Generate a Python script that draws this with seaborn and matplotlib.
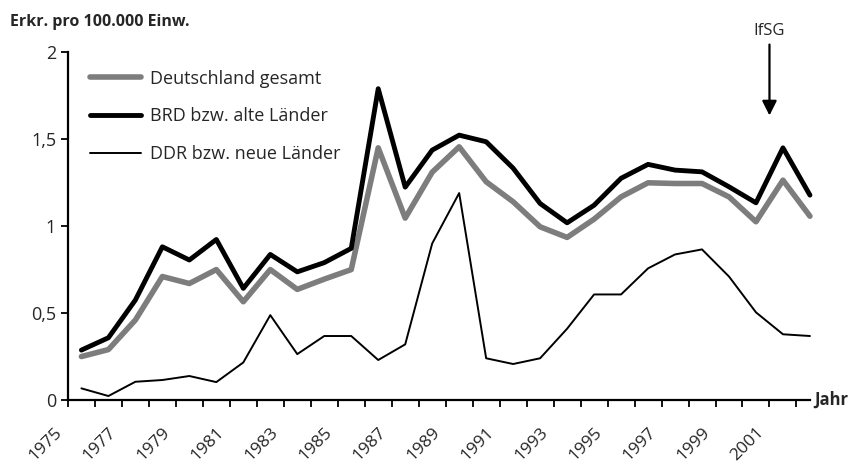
import numpy as np
import pandas as pd
import seaborn as sns
import matplotlib.pyplot as plt
from matplotlib.transforms import ScaledTranslation

# Data (cases per 100,000 inhabitants)
years = list(range(1975, 2003))
gesamt = [0.25, 0.29, 0.46, 0.71, 0.67, 0.75, 0.565, 0.75, 0.636, 0.695, 0.75,
          1.45, 1.046, 1.31, 1.456, 1.255, 1.14, 0.996, 0.935, 1.04, 1.168, 1.249,
          1.245, 1.245, 1.168, 1.025, 1.264, 1.057]
brd = [0.287, 0.358, 0.575, 0.881, 0.805, 0.923, 0.642, 0.837, 0.737, 0.79, 0.872,
       1.79, 1.224, 1.437, 1.523, 1.485, 1.333, 1.13, 1.019, 1.12, 1.275, 1.355,
       1.322, 1.312, 1.226, 1.134, 1.45, 1.178]
ddr = [0.067, 0.023, 0.105, 0.115, 0.138, 0.103, 0.216, 0.488, 0.264, 0.368, 0.368,
       0.23, 0.32, 0.90, 1.19, 0.24, 0.207, 0.24, 0.41, 0.607, 0.607, 0.757,
       0.837, 0.866, 0.71, 0.504, 0.378, 0.368]
series_labels = ["Deutschland gesamt", "BRD bzw. alte Länder", "DDR bzw. neue Länder"]

# points sit in the middle of each year interval
df = pd.DataFrame({"year": np.array(years) + 0.5, "gesamt": gesamt, "brd": brd, "ddr": ddr})

sns.set_style("ticks")
plt.rcParams['font.family'] = ['Open Sans', 'DejaVu Sans']

fig = plt.figure(figsize=(8.49, 4.66), dpi=100)
ax = fig.add_axes([0.080, 0.1416, 0.874, 0.7464])

sns.lineplot(data=df, x="year", y="gesamt", color="#7d7d7d", linewidth=4, ax=ax, label=series_labels[0])
sns.lineplot(data=df, x="year", y="brd", color="black", linewidth=3.5, ax=ax, label=series_labels[1])
sns.lineplot(data=df, x="year", y="ddr", color="black", linewidth=1.4, ax=ax, label=series_labels[2])
for line in ax.lines:
    line.set_clip_on(False)

ax.set_xlim(1975, 2002.5)
ax.set_ylim(0, 2)
ax.set_xlabel("")
ax.set_ylabel("")

ax.set_yticks([0, 0.5, 1, 1.5, 2])
ax.set_yticklabels(["0", "0,5", "1", "1,5", "2"], fontsize=13)
ax.set_xticks(range(1975, 2003))
ax.set_xticklabels([str(y) if (y - 1975) % 2 == 0 and y <= 2001 else "" for y in range(1975, 2003)],
                   rotation=45, ha="right", rotation_mode="anchor", fontsize=12.5)
ax.tick_params(axis="both", direction="out", length=5, width=1.3, color="black")
ax.tick_params(axis="x", pad=16)
shift = ScaledTranslation(-8 / 100, -1 / 100, fig.dpi_scale_trans)
for lbl in ax.get_xticklabels():
    lbl.set_va("center")
    lbl.set_transform(lbl.get_transform() + shift)
sns.despine(ax=ax)
for s in ["left", "bottom"]:
    ax.spines[s].set_linewidth(1.6)
    ax.spines[s].set_color("black")

ax.legend(loc="upper left", bbox_to_anchor=(0.03, 0.95), frameon=False, fontsize=13,
          handlelength=2.8, handletextpad=0.5, labelspacing=1.1, borderpad=0, borderaxespad=0)

# IfSG marker
ax.annotate("", xy=(2001, 1.62), xytext=(2001, 2.06), annotation_clip=False,
            arrowprops=dict(arrowstyle="-|>", color="black", lw=1.6, mutation_scale=22))
ax.text(2001, 2.12, "IfSG", ha="center", va="center", fontsize=12, clip_on=False)

ax.text(1.006, 0, "Jahr", transform=ax.transAxes, ha="left", va="center",
        fontsize=12, fontweight="bold")
fig.text(0.012, 0.953, "Erkr. pro 100.000 Einw.", ha="left", va="center",
         fontsize=11.5, fontweight="bold")

fig.savefig("out.png", dpi=100)
